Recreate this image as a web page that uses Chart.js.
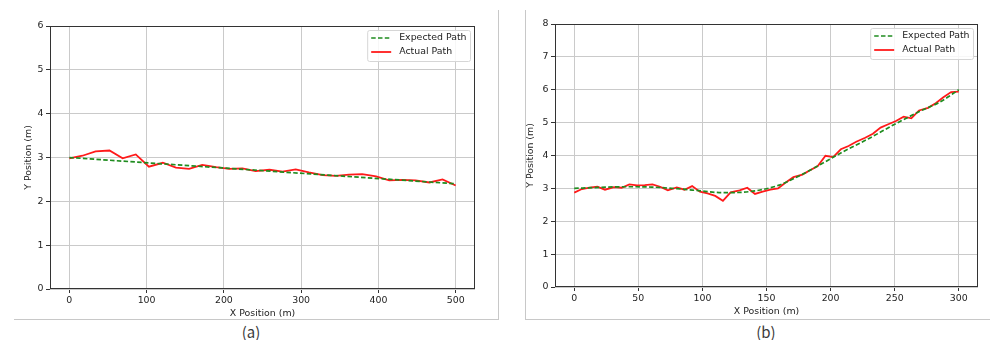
<!DOCTYPE html>
<html>
<head>
<meta charset="utf-8">
<script src="https://cdn.jsdelivr.net/npm/chart.js@4.4.0/dist/chart.umd.min.js"></script>
<style>
  html, body { margin: 0; padding: 0; background: #fff; }
  #page { position: relative; width: 990px; height: 340px; overflow: hidden; }
  .frame { position: absolute; box-sizing: border-box; }
  #frameA { left: 14px; top: 10px; width: 485px; height: 310px; border-right: 1px solid #c8c8c8; border-bottom: 1px solid #c8c8c8; }
  #frameB { left: 525px; top: 10px; width: 465px; height: 310px; border-left: 1px solid #c8c8c8; border-bottom: 1px solid #c8c8c8; }
  canvas { position: absolute; }
  #chartA { left: 0; top: 0; }
  #chartB { left: 500px; top: 0; }
  .cap { position: absolute; top: 321px; width: 40px; margin-left: -20px; text-align: center;
         font: 15px "Noto Sans CJK SC", sans-serif; color: #3a3a3a; }
</style>
</head>
<body>
<div id="page">
  <div class="frame" id="frameA"></div>
  <div class="frame" id="frameB"></div>
  <canvas id="chartA" width="498" height="320"></canvas>
  <canvas id="chartB" width="490" height="318"></canvas>
  <div class="cap" style="left:251px">(a)</div>
  <div class="cap" style="left:766px">(b)</div>
</div>
<script>
// (a) straight route
const expXA = [0, 500];
const expYA = [3.0, 2.4];
const actXA = [0, 17, 34, 52, 69, 86, 103, 121, 138, 155, 172, 190, 207, 224, 241,
               259, 276, 293, 310, 328, 345, 362, 379, 397, 414, 431, 448, 466, 483, 500];
const actYA = [2.98, 3.04, 3.14, 3.16, 2.98, 3.07, 2.79, 2.88, 2.77, 2.74, 2.83, 2.78, 2.74, 2.75, 2.69,
               2.72, 2.68, 2.73, 2.66, 2.60, 2.58, 2.61, 2.62, 2.57, 2.48, 2.49, 2.48, 2.43, 2.50, 2.36];
const xTicksA = [0, 100, 200, 300, 400, 500];
const yTicksA = [0, 1, 2, 3, 4, 5, 6];

// (b) curved route
const expXB = [0, 20, 40, 60, 80, 100, 115, 130, 145, 160, 175, 190, 210, 230, 250, 270, 285, 300];
const expYB = [3.00, 3.03, 3.05, 3.04, 2.99, 2.92, 2.87, 2.88, 2.95, 3.10, 3.37, 3.68, 4.12, 4.52, 4.95, 5.35, 5.62, 6.00];
const actXB = [0, 6, 12, 18, 24, 31, 37, 43, 49, 55, 61, 67, 73, 80, 86, 92, 98, 104, 110, 116,
               122, 129, 135, 141, 147, 153, 159, 165, 171, 178, 184, 190, 196, 202, 208, 214, 220,
               227, 233, 239, 245, 251, 257, 263, 269, 276, 282, 288, 294, 300];
const actYB = [2.87, 2.98, 3.02, 3.05, 2.96, 3.04, 3.02, 3.12, 3.09, 3.10, 3.12, 3.05, 2.94, 3.03, 2.96, 3.07, 2.90, 2.85, 2.77, 2.62,
               2.88, 2.94, 3.02, 2.83, 2.90, 2.96, 3.00, 3.18, 3.34, 3.42, 3.55, 3.68, 3.99, 3.95, 4.19, 4.29, 4.42,
               4.54, 4.66, 4.85, 4.95, 5.05, 5.18, 5.13, 5.37, 5.45, 5.59, 5.77, 5.93, 5.94];
const xTicksB = [0, 50, 100, 150, 200, 250, 300];
const yTicksB = [0, 1, 2, 3, 4, 5, 6, 7, 8];

const labels = ["Expected Path", "Actual Path"];
const FONT = { family: "DejaVu Sans", size: 9.4 };
const TXT = "#1c1c1c";

function pts(xs, ys) {
  return xs.map((x, i) => ({ x: x, y: ys[i] }));
}

const frameLegend = {
  id: "frameLegend",
  afterDraw(chart) {
    const { ctx, chartArea: a } = chart;
    ctx.save();
    // axes box
    ctx.strokeStyle = "#333";
    ctx.lineWidth = 1;
    ctx.strokeRect(Math.round(a.left) + 0.5, Math.round(a.top) + 0.5,
                   Math.round(a.right - a.left) - 1, Math.round(a.bottom - a.top) - 1);
    // legend
    ctx.font = FONT.size + 'px "DejaVu Sans"';
    const sets = chart.data.datasets;
    const tw = Math.max(...sets.map(d => ctx.measureText(d.label).width));
    const w = 3.5 + 20 + 8 + tw + 4;
    const h = 31;
    const x0 = a.right - 4.5 - w;
    const y0 = a.top + 4.5;
    ctx.beginPath();
    ctx.roundRect(x0, y0, w, h, 2);
    ctx.fillStyle = "rgba(255,255,255,0.85)";
    ctx.fill();
    ctx.strokeStyle = "#d6d6d6";
    ctx.stroke();
    sets.forEach((d, i) => {
      const yy = y0 + 7.5 + i * 14;
      ctx.beginPath();
      ctx.setLineDash(d.borderDash || []);
      ctx.strokeStyle = d.borderColor;
      ctx.lineWidth = d.borderWidth;
      ctx.moveTo(x0 + 3.5, yy);
      ctx.lineTo(x0 + 23.5, yy);
      ctx.stroke();
      ctx.setLineDash([]);
      ctx.fillStyle = TXT;
      ctx.textBaseline = "middle";
      ctx.fillText(d.label, x0 + 31.5, yy);
    });
    ctx.restore();
  }
};

function makeChart(id, expX, expY, actX, actY, xTicks, yTicks, xMin, xMax, yMax, yWidth, padRight, padTop, yTitlePad) {
  return new Chart(document.getElementById(id), {
    type: "line",
    data: {
      datasets: [
        {
          label: labels[0],
          data: pts(expX, expY),
          borderColor: "#1f8c1f",
          borderWidth: 1.7,
          borderDash: [4.5, 2.3],
          pointRadius: 0,
          cubicInterpolationMode: "monotone"
        },
        {
          label: labels[1],
          data: pts(actX, actY),
          borderColor: "#ff1a1a",
          borderWidth: 1.8,
          pointRadius: 0,
          tension: 0
        }
      ]
    },
    options: {
      responsive: false,
      animation: false,
      events: [],
      layout: { padding: { left: 0, right: padRight, top: padTop, bottom: 0 } },
      plugins: { legend: { display: false }, tooltip: { enabled: false } },
      scales: {
        x: {
          type: "linear",
          min: xMin,
          max: xMax,
          afterBuildTicks: s => { s.ticks = xTicks.map(v => ({ value: v })); },
          afterFit: s => { s.height = 31; },
          grid: { color: "#cacaca", tickColor: "#333", tickLength: 4, lineWidth: 1 },
          border: { display: false },
          ticks: { color: TXT, font: FONT, padding: 2, maxRotation: 0 },
          title: { display: true, text: "X Position (m)", color: TXT, font: FONT, padding: { top: 0, bottom: 1 } }
        },
        y: {
          min: 0,
          max: yMax,
          afterBuildTicks: s => { s.ticks = yTicks.map(v => ({ value: v })); },
          afterFit: s => { s.width = yWidth; },
          grid: { color: "#cacaca", tickColor: "#333", tickLength: 4, lineWidth: 1 },
          border: { display: false },
          ticks: { color: TXT, font: FONT, padding: 2.5 },
          title: { display: true, text: "Y Position (m)", color: TXT, font: FONT, padding: { top: yTitlePad, bottom: 0 } }
        }
      }
    },
    plugins: [frameLegend]
  });
}

makeChart("chartA", expXA, expYA, actXA, actYA, xTicksA, yTicksA, -25, 525, 6, 50, 23, 26, 23.4);
makeChart("chartB", expXB, expYB, actXB, actYB, xTicksB, yTicksB, -15, 315, 8, 55, 12, 24, 25);
</script>
</body>
</html>
